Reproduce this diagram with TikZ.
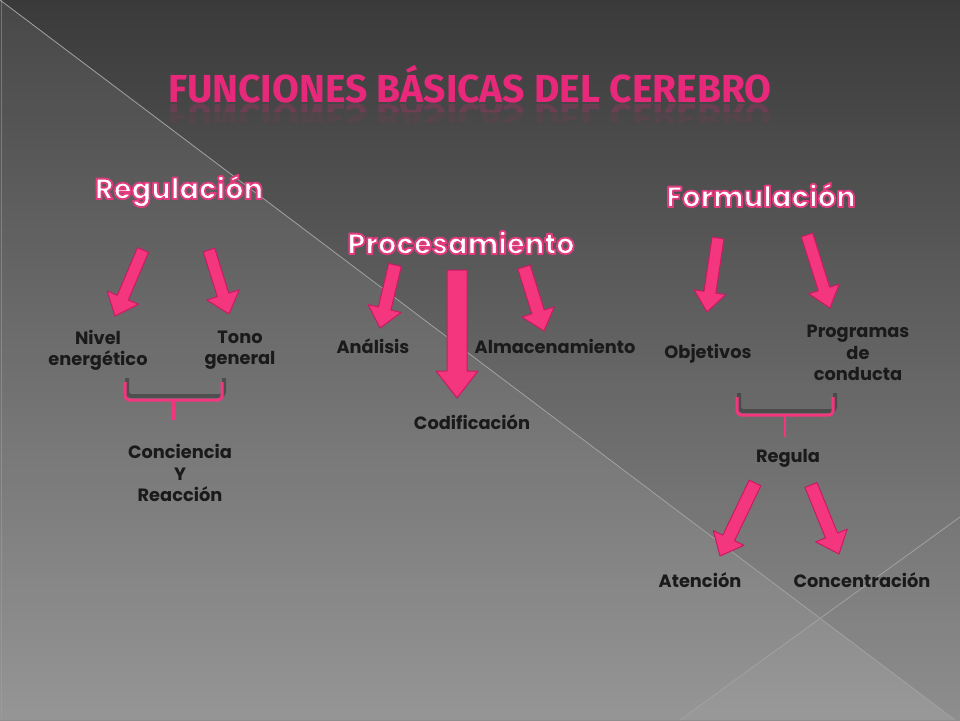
\documentclass[tikz,border=0pt]{standalone}
\usepackage{fontspec}
\usetikzlibrary{calc}
\setmainfont{Poppins}
\newfontfamily\headfont{Fira Sans}
\definecolor{bgtop}{HTML}{3A3A3A}
\definecolor{bgbot}{HTML}{8E8E8E}
\definecolor{pinkfill}{HTML}{F4367F}
\definecolor{pinkedge}{HTML}{C81C62}
\definecolor{titlepink}{HTML}{E8287A}
\definecolor{labtext}{HTML}{1A1A1A}
\definecolor{bgline}{HTML}{A2A2A2}
\newcommand{\glowtext}[1]{\special{pdf:code q 2 Tr 1.8 w 1 J 1 j 0.894 0.227 0.502 RG}#1\special{pdf:code Q}}
\tikzset{
  labelbox/.style={text=labtext, font=\bfseries\fontsize{17.8}{21.3}\selectfont, align=center, inner sep=0pt},
  headbox/.style={text=white, font=\bfseries\fontsize{29}{32}\selectfont, anchor=base, inner sep=0pt},
  titlebox/.style={text=titlepink, font=\headfont\bfseries\fontsize{39}{42}\selectfont, anchor=base, inner sep=0pt},
  arrowbody/.style={fill=pinkfill, draw=pinkedge, line width=1pt, line join=round},
  bracepink/.style={draw=pinkfill, line width=3pt, rounded corners=4pt},
  braceshadow/.style={draw=black!80, line width=4pt, rounded corners=4pt, opacity=0.55},
}
% #1 tail, #2 tip, #3 shaft half width, #4 head half width, #5 head length
\newcommand{\blockarrow}[5]{%
  \coordinate (hb) at ($(#2)!#5!(#1)$);
  \path[arrowbody] ($(#1)!#3!90:(#2)$) -- ($(hb)!#3!90:(#2)$) -- ($(hb)!#4!90:(#2)$)
    -- (#2) -- ($(hb)!#4!-90:(#2)$) -- ($(hb)!#3!-90:(#2)$) -- ($(#1)!#3!-90:(#2)$) -- cycle;
}
\newcommand{\bracket}[5]{% left x, right x, top y, line y, tip y
  \draw[braceshadow, shift={(2,-4)}] (#1,#3) -- (#1,#4) -- (#2,#4) -- (#2,#3);
  \draw[bracepink] (#1,#3) -- (#1,#4) -- (#2,#4) -- (#2,#3);
  \draw[bracepink, rounded corners=0pt, line width=2.5pt] ({(#1+#2)/2},#4) -- ({(#1+#2)/2},#5);
}
\begin{document}
\begin{tikzpicture}[x=1pt,y=-1pt]
\useasboundingbox (0,0) rectangle (960,720);
% background
\shade[top color=bgtop, bottom color=bgbot] (0,0) rectangle (960,720);
\fill[white, opacity=0.07] (0,0) -- (955,720) -- (0,720) -- cycle;
\fill[white, opacity=0.03] (820,618) -- (680,720) -- (955,720) -- cycle;
\draw[bgline, line width=0.8pt] (0,0) -- (955,720);
\draw[bgline, line width=0.8pt] (960,517) -- (680,720);
\draw[bgline, opacity=0.5, line width=0.8pt] (1,0) -- (1,720);

% title and reflection
\node[titlebox] (title) at (470,102) {FUNCIONES BÁSICAS DEL CEREBRO};
\begin{scope}
  \clip (100,103) rectangle (860,111);
  \begin{scope}[shift={(470,104)}, yscale=-1]
    \node[titlebox, transform shape, text opacity=0.2] (titlerefl) at (0,0) {FUNCIONES BÁSICAS DEL CEREBRO};
  \end{scope}
\end{scope}
\begin{scope}
  \clip (100,111) rectangle (860,122);
  \begin{scope}[shift={(470,104)}, yscale=-1]
    \node[titlebox, transform shape, text opacity=0.08] (titlereflb) at (0,0) {FUNCIONES BÁSICAS DEL CEREBRO};
  \end{scope}
\end{scope}

% headings
\node[headbox] (reg) at (179,199) {\glowtext{Regulación}};
\node[headbox] (proc) at (461,254) {\glowtext{Procesamiento}};
\node[headbox] (form) at (761,207) {\glowtext{Formulación}};

% labels
\node[labelbox] (nivel) at (98,350) {Nivel\\energético};
\node[labelbox] (tono) at (240,350) {Tono\\general};
\node[labelbox] (conc) at (180,473) {Conciencia\\Y\\Reacción};
\node[labelbox] (anal) at (373,346) {Análisis};
\node[labelbox] (alma) at (555,346) {Almacenamiento};
\node[labelbox] (codi) at (472,422) {Codificación};
\node[labelbox] (obje) at (708,354) {Objetivos};
\node[labelbox] (prog) at (858,353) {Programas\\de\\conducta};
\node[labelbox] (regu) at (788,458) {Regula};
\node[labelbox] (aten) at (700,580) {Atención};
\node[labelbox] (concen) at (862,580) {Concentración};

% arrow end points
\coordinate (a1s) at (143,250); \coordinate (a1e) at (115,316);
\coordinate (a2s) at (209,250); \coordinate (a2e) at (229,314);
\coordinate (a3s) at (395,265); \coordinate (a3e) at (380,328);
\coordinate (a4s) at (457,270); \coordinate (a4e) at (457,398);
\coordinate (a5s) at (524,267); \coordinate (a5e) at (544,331);
\coordinate (a6s) at (718,238); \coordinate (a6e) at (707,312);
\coordinate (a7s) at (807,235); \coordinate (a7e) at (830,308);
\coordinate (a8s) at (755,483); \coordinate (a8e) at (720,556);
\coordinate (a9s) at (811,485); \coordinate (a9e) at (839,554);

\blockarrow{a1s}{a1e}{6pt}{17pt}{20pt}
\blockarrow{a2s}{a2e}{6pt}{17pt}{20pt}
\blockarrow{a3s}{a3e}{6.5pt}{17pt}{20pt}
\blockarrow{a4s}{a4e}{10pt}{21pt}{27pt}
\blockarrow{a5s}{a5e}{6.5pt}{17pt}{20pt}
\blockarrow{a6s}{a6e}{6pt}{16pt}{20pt}
\blockarrow{a7s}{a7e}{6pt}{16pt}{20pt}
\blockarrow{a8s}{a8e}{6.5pt}{17pt}{20pt}
\blockarrow{a9s}{a9e}{6.5pt}{17pt}{20pt}

% brackets
\bracket{125}{222}{382}{400}{420}
\bracket{737}{833}{397}{415}{437}
\end{tikzpicture}
\end{document}
